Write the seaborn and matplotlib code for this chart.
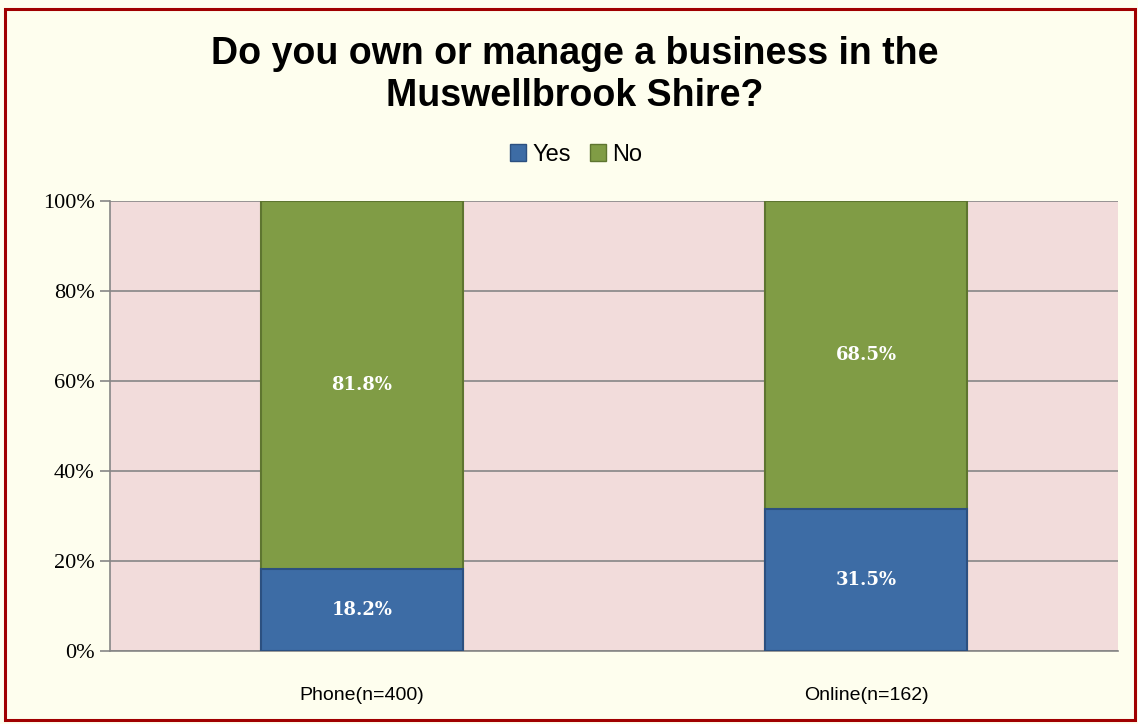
import matplotlib
matplotlib.use('Agg')
from matplotlib import pyplot as plt
from matplotlib.patches import Rectangle, Patch
import seaborn as sns

# chart data
categories = ['Phone(n=400)', 'Online(n=162)']
yes_pct = [18.2, 31.5]
no_pct = [81.8, 68.5]
y_ticks = [0, 20, 40, 60, 80, 100]

blue = '#3D6CA5'
green = '#809C45'

sns.set_theme(style='white')
plt.rcParams['font.family'] = ['Liberation Sans', 'DejaVu Sans']
plt.rcParams['text.color'] = 'black'
plt.rcParams['xtick.labelcolor'] = 'black'
plt.rcParams['ytick.labelcolor'] = 'black'

fig = plt.figure(figsize=(11.38, 7.24), dpi=100)
fig.patch.set_facecolor('#FEFEEE')

# frame around the whole chart
fig.patches.append(Rectangle((0.0045, 0.006), 0.993, 0.982, transform=fig.transFigure,
                             fill=False, edgecolor='#A00000', linewidth=2.2))

ax = fig.add_axes([0.0967, 0.1008, 0.8857, 0.6216])
ax.set_facecolor('#F2DCDB')

totals = [y + n for y, n in zip(yes_pct, no_pct)]
sns.barplot(x=categories, y=totals, color=green, width=0.4, saturation=1,
            edgecolor='#5E7530', linewidth=1.5, ax=ax, zorder=3)
sns.barplot(x=categories, y=yes_pct, color=blue, width=0.4, saturation=1,
            edgecolor='#2C5080', linewidth=1.5, ax=ax, zorder=4)

# value labels in the middle of each segment
for i in range(len(categories)):
    ax.text(i, yes_pct[i] / 2, f'{yes_pct[i]:.1f}%', ha='center', va='center',
            color='white', fontsize=13, fontweight='bold', family='DejaVu Serif', zorder=5)
    ax.text(i, yes_pct[i] + no_pct[i] / 2, f'{no_pct[i]:.1f}%', ha='center', va='center',
            color='white', fontsize=13, fontweight='bold', family='DejaVu Serif', zorder=5)

ax.set_xlim(-0.5, 1.5)
ax.set_ylim(0, 100)
ax.set_yticks(y_ticks)
ax.set_yticklabels([f'{t}%' for t in y_ticks], family='Liberation Serif', fontsize=16)
ax.yaxis.grid(True, color='#868686', linewidth=1.2, zorder=0)
ax.set_axisbelow(True)

ax.set_xticks([0, 1])
ax.set_xticklabels(categories, fontsize=14)
ax.set_xticks([-0.5, 0.5, 1.5], minor=True)
ax.tick_params(axis='x', which='major', length=0, pad=26)
ax.tick_params(axis='x', which='minor', length=7, color='#868686', width=1.2, direction='out')
ax.tick_params(axis='y', length=7, color='#868686', width=1.2, direction='out', left=True, pad=4)

for side in ['top', 'right']:
    ax.spines[side].set_visible(False)
for side in ['left', 'bottom']:
    ax.spines[side].set_color('#868686')
    ax.spines[side].set_linewidth(1.2)
ax.set_xlabel('')
ax.set_ylabel('')

fig.text(0.505, 0.896, 'Do you own or manage a business in the\nMuswellbrook Shire?',
         ha='center', va='center', fontsize=27, fontweight='bold', linespacing=1.2,
         color='black')

handles = [Patch(facecolor=blue, edgecolor='#2C5080'), Patch(facecolor=green, edgecolor='#5E7530')]
fig.legend(handles, ['Yes', 'No'], loc='center', bbox_to_anchor=(0.506, 0.786), ncol=2,
           frameon=False, fontsize=17, handlelength=0.7, handleheight=0.7,
           handletextpad=0.25, columnspacing=0.8)

fig.savefig('out.png', dpi=100, facecolor=fig.get_facecolor())
